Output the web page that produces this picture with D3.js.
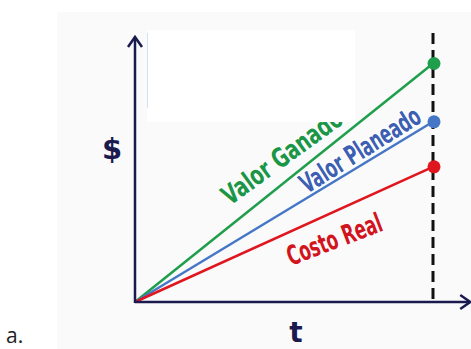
<!DOCTYPE html>
<html>
<head>
<meta charset="utf-8">
<script src="https://cdn.jsdelivr.net/npm/d3@7"></script>
<style>
  body { margin: 0; background: #fff; }
  svg { display: block; }
</style>
</head>
<body>
<div id="chart"></div>
<script>
// data
let series = ['Valor Ganado', 'Valor Planeado', 'Costo Real'];
let tiempo = [0, 10];            // t: inicio y fecha de corte
let valorGanado = [0, 90];
let valorPlaneado = [0, 68];
let costoReal = [0, 51];
let colores = ['#1f9e4c', '#4577c6', '#e0161f'];
let textColores = ['#1a9646', '#3d5fb3', '#d2141c'];

// configuration
let config = { svg: {}, axis: {} };
config.svg.width = 471;
config.svg.height = 349;
config.axis.color = '#1b1a4f';

let x = d3.scaleLinear().domain([0, 10]).range([135, 433]);
let y = d3.scaleLinear().domain([0, 100]).range([302, 37]);

let svg = d3.select('#chart').append('svg')
    .attr('width', config.svg.width)
    .attr('height', config.svg.height);

// light backdrop of the pasted image
svg.append('rect')
    .attr('x', 57).attr('y', 12)
    .attr('width', config.svg.width - 57).attr('height', config.svg.height - 12)
    .attr('fill', '#fafafb');

let valores = [valorGanado, valorPlaneado, costoReal];
let data = series.map(function(name, i) {
  return {
    name: name,
    color: colores[i],
    textColor: textColores[i],
    points: tiempo.map(function(t, j) { return { t: t, v: valores[i][j] }; })
  };
});

// dashed vertical line at the status date
svg.append('line')
    .attr('x1', x(10)).attr('x2', x(10))
    .attr('y1', y(101.5)).attr('y2', y(0))
    .attr('stroke', '#111')
    .attr('stroke-width', 3)
    .attr('stroke-dasharray', '11,6');

let line = d3.line()
    .x(function(d) { return x(d.t); })
    .y(function(d) { return y(d.v); });

svg.selectAll('.serie')
    .data(data)
    .enter().append('path')
    .attr('class', 'serie')
    .attr('d', function(d) { return line(d.points); })
    .attr('fill', 'none')
    .attr('stroke', function(d) { return d.color; })
    .attr('stroke-width', 2.5);

svg.selectAll('.punto')
    .data(data)
    .enter().append('circle')
    .attr('class', 'punto')
    .attr('cx', function(d) { return x(d.points[1].t) + 1; })
    .attr('cy', function(d) { return y(d.points[1].v); })
    .attr('r', 6.5)
    .attr('fill', function(d) { return d.color; });

// labels along the lines
let labelLayout = [
  { x: 230, y: 206, angle: -36, len: 142, halo: 1.5 },
  { x: 307, y: 194, angle: -32, len: 137, halo: 3 },
  { x: 291, y: 266, angle: -21, len: 100, halo: 1.5 }
];
svg.selectAll('.etiqueta')
    .data(data)
    .enter().append('text')
    .attr('class', 'etiqueta')
    .attr('transform', function(d, i) {
      let l = labelLayout[i];
      return 'translate(' + l.x + ',' + l.y + ') rotate(' + l.angle + ')';
    })
    .attr('textLength', function(d, i) { return labelLayout[i].len; })
    .attr('lengthAdjust', 'spacingAndGlyphs')
    .style('font-family', '"DejaVu Sans Condensed", "DejaVu Sans", sans-serif')
    .style('font-weight', 'bold')
    .style('font-size', '27px')
    .style('paint-order', 'stroke')
    .attr('stroke', '#fff')
    .attr('stroke-width', function(d, i) { return labelLayout[i].halo; })
    .attr('fill', function(d) { return d.textColor; })
    .text(function(d) { return d.name; });

// white patch covering the top of the picture (it hides the end of "Valor Ganado", as in the original)
svg.append('rect')
    .attr('x', 147).attr('y', 30)
    .attr('width', 208).attr('height', 92)
    .attr('fill', '#fff');
svg.append('line')
    .attr('x1', 147.5).attr('x2', 147.5)
    .attr('y1', 33).attr('y2', 108)
    .attr('stroke', '#d4e2f0').attr('stroke-width', 1);

// axes with arrows
let xEnd = 11.25;
svg.append('line')
    .attr('x1', x(0)).attr('x2', x(0))
    .attr('y1', y(0) + 1).attr('y2', y(100))
    .attr('stroke', config.axis.color).attr('stroke-width', 2.5);
svg.append('line')
    .attr('x1', x(0)).attr('x2', x(xEnd))
    .attr('y1', y(0)).attr('y2', y(0))
    .attr('stroke', config.axis.color).attr('stroke-width', 2.5);
svg.append('path')
    .attr('d', 'M' + (x(0) - 7) + ',' + (y(100) + 10) + 'L' + x(0) + ',' + y(100) + 'L' + (x(0) + 7) + ',' + (y(100) + 10))
    .attr('fill', 'none').attr('stroke', config.axis.color).attr('stroke-width', 2.5);
svg.append('path')
    .attr('d', 'M' + (x(xEnd) - 10) + ',' + (y(0) - 7) + 'L' + x(xEnd) + ',' + y(0) + 'L' + (x(xEnd) - 10) + ',' + (y(0) + 7))
    .attr('fill', 'none').attr('stroke', config.axis.color).attr('stroke-width', 2.5);

// axis titles
svg.append('text')
    .attr('x', 112).attr('y', 159)
    .attr('text-anchor', 'middle')
    .style('font-family', '"DejaVu Sans", sans-serif')
    .style('font-weight', 'bold')
    .style('font-size', '29px')
    .attr('fill', config.axis.color)
    .text('$');
svg.append('text')
    .attr('x', 296).attr('y', 342)
    .attr('text-anchor', 'middle')
    .style('font-family', '"DejaVu Sans", sans-serif')
    .style('font-weight', 'bold')
    .style('font-size', '28px')
    .attr('fill', config.axis.color)
    .text('t');

svg.append('text')
    .attr('x', 6).attr('y', 343)
    .style('font-family', '"Open Sans", sans-serif')
    .style('font-size', '21px')
    .attr('fill', '#222')
    .text('a.');
</script>
</body>
</html>
